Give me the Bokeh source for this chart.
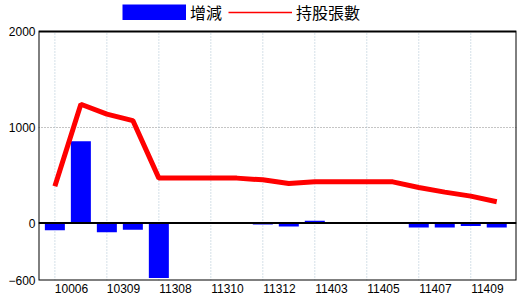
from bokeh.plotting import figure
from bokeh.models import (ColumnDataSource, Range1d, FixedTicker, Span,
                          Legend, LegendItem, BoxAnnotation)
from bokeh.embed import file_html
from bokeh.resources import INLINE

# ---- data ----
change = [-75, 855, -97, -70, -575, 0, 0, 0, -15, -35, 24, 0, 0, 0, -46, -46, -32, -46]
holders = [385, 1240, 1138, 1070, 469, 469, 469, 469, 451, 413, 430, 430, 430, 430, 371, 323, 281, 222]
tick_labels = ["10006", "10309", "11308", "11310", "11312", "11403", "11405", "11407", "11409"]
y_ticks = [-600, 0, 1000, 2000]
legend_labels = ["增減", "持股張數"]

Y_MIN, Y_MAX = -600, 2000
idx = list(range(len(change)))
src = ColumnDataSource(dict(x=idx, change=change, holders=holders))

# frame spans whole top area (legend lives inside it); the visible box is drawn separately
top_extra = 31 / (249 / (Y_MAX - Y_MIN))
p = figure(width=520, height=300, output_backend="svg", toolbar_location=None,
           x_range=Range1d(-0.63, 17.76), y_range=Range1d(Y_MIN, Y_MAX + top_extra),
           min_border_left=38, min_border_right=4, min_border_top=0, min_border_bottom=20)
p.background_fill_color = "white"
p.border_fill_color = "white"
p.outline_line_color = None

# grids
p.xgrid.visible = False
p.ygrid.ticker = FixedTicker(ticks=[1000])
p.ygrid.grid_line_color = "#8a8a8a"
p.ygrid.grid_line_dash = "1 2"
grid_pos = [float(i) for i in range(0, len(change), 2)]
p.segment(x0=grid_pos, x1=grid_pos, y0=[Y_MIN] * len(grid_pos), y1=[Y_MAX] * len(grid_pos),
          line_color="#a9c0d0", line_dash="1 2", line_width=1)

bars = p.vbar(x="x", top="change", bottom=0, width=0.77, source=src,
              fill_color="#0000FF", line_color=None)
p.add_layout(Span(location=0, dimension="width", line_color="black", line_width=2))
p.line(x="x", y="holders", source=src, line_color="#FF0000", line_width=5)

# plot box
p.add_layout(BoxAnnotation(bottom=Y_MIN, top=Y_MAX, fill_alpha=0,
                           line_color="black", line_width=2, line_alpha=1))

# legend proxies
proxy_bar = p.line(x=[float("nan")], y=[float("nan")], line_color="#0000FF",
                   line_width=16, line_cap="butt")
proxy_line = p.line(x=[float("nan")], y=[float("nan")], line_color="#FF0000", line_width=1.5)

# axes
label_pos = [i + 0.64 for i in grid_pos]
p.xaxis.ticker = FixedTicker(ticks=label_pos)
p.xaxis.major_label_overrides = {pos: lab for pos, lab in zip(label_pos, tick_labels)}
p.yaxis.ticker = FixedTicker(ticks=y_ticks)
for ax in (p.xaxis, p.yaxis):
    ax.axis_line_color = None
    ax.major_tick_line_color = None
    ax.minor_tick_line_color = None
    ax.major_tick_out = 0
    ax.major_tick_in = 0
    ax.major_label_text_font = "Liberation Sans"
    ax.major_label_text_font_size = "12px"
    ax.major_label_text_color = "black"
p.xaxis.major_label_standoff = 3
p.yaxis.major_label_standoff = 3

legend = Legend(items=[LegendItem(label=legend_labels[0], renderers=[proxy_bar]),
                       LegendItem(label=legend_labels[1], renderers=[proxy_line])],
                location=(84, 256), orientation="horizontal",
                glyph_width=64, glyph_height=16, label_height=16,
                label_standoff=4, spacing=6, padding=0, margin=0,
                border_line_color=None, background_fill_alpha=0,
                label_text_font="Noto Sans CJK TC", label_text_font_size="16px",
                label_text_color="black")
p.add_layout(legend)

open("out.html", "w").write(file_html(p, INLINE))
